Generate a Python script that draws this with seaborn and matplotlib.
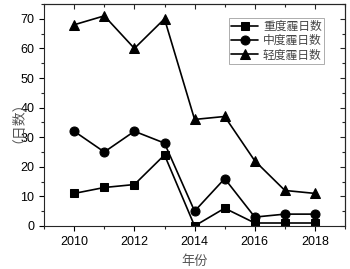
import matplotlib
matplotlib.use("Agg")
import matplotlib.pyplot as plt
import seaborn as sns
import pandas as pd

# data
years = [2010, 2011, 2012, 2013, 2014, 2015, 2016, 2017, 2018]
heavy = [11, 13, 14, 24, 0, 6, 1, 1, 1]
medium = [32, 25, 32, 28, 5, 16, 3, 4, 4]
light = [68, 71, 60, 70, 36, 37, 22, 12, 11]
names = ["重度霾日数", "中度霾日数", "轻度霾日数"]

df = pd.DataFrame({"年份": years, names[0]: heavy, names[1]: medium, names[2]: light})

sns.set_style("ticks")
plt.rcParams["font.family"] = ["Liberation Sans", "Noto Sans CJK SC"]
cjk = ["Noto Sans CJK SC", "DejaVu Sans"]

fig = plt.figure(figsize=(3.5, 2.69), dpi=100)
ax = fig.add_axes([0.126, 0.16, 0.86, 0.825])

markers = ["s", "o", "^"]
sizes = [6, 6.5, 7.5]
for name, m, ms in zip(names, markers, sizes):
    sns.lineplot(x="年份", y=name, data=df, ax=ax, color="black", marker=m,
                 markersize=ms, markeredgecolor="black", linewidth=1.2, label=name)

ax.set_xlim(2009, 2019)
ax.set_ylim(0, 75)
ax.set_xticks([2010, 2012, 2014, 2016, 2018])
ax.set_xticks(range(2009, 2020), minor=True)
ax.set_yticks(range(0, 71, 10))
ax.set_yticks(range(0, 76, 5), minor=True)
ax.tick_params(direction="out", labelsize=9, width=0.8, length=3.5, colors="black")
ax.tick_params(which="minor", direction="out", width=0.8, length=2)
for s in ax.spines.values():
    s.set_linewidth(0.8)
    s.set_visible(True)

top = ax.secondary_xaxis("top")
top.set_xticks([2010, 2012, 2014, 2016, 2018], labels=[])
top.set_xticks(range(2009, 2020), minor=True)
top.tick_params(direction="in", length=3.5, width=0.8)
top.tick_params(which="minor", direction="in", length=2, width=0.8)
right = ax.secondary_yaxis("right")
right.set_yticks(range(0, 71, 10), labels=[])
right.set_yticks(range(0, 76, 5), minor=True)
right.tick_params(direction="in", length=3.5, width=0.8)
right.tick_params(which="minor", direction="in", length=2, width=0.8)

ax.set_xlabel("年份", family=cjk, fontsize=9.5, color="#555555", labelpad=5)
ax.set_ylabel("（日数）", family=cjk, fontsize=10, color="#555555", labelpad=2)

leg = ax.legend(loc="upper right", bbox_to_anchor=(0.95, 0.965), frameon=True, fancybox=False,
                edgecolor="#888888", prop={"family": cjk, "size": 8.5}, borderpad=0.2,
                labelspacing=0.1, handlelength=2.3, handletextpad=0.4)
leg.get_frame().set_linewidth(0.6)
for t in leg.get_texts():
    t.set_color("#444444")

plt.savefig("out.png", dpi=100)
